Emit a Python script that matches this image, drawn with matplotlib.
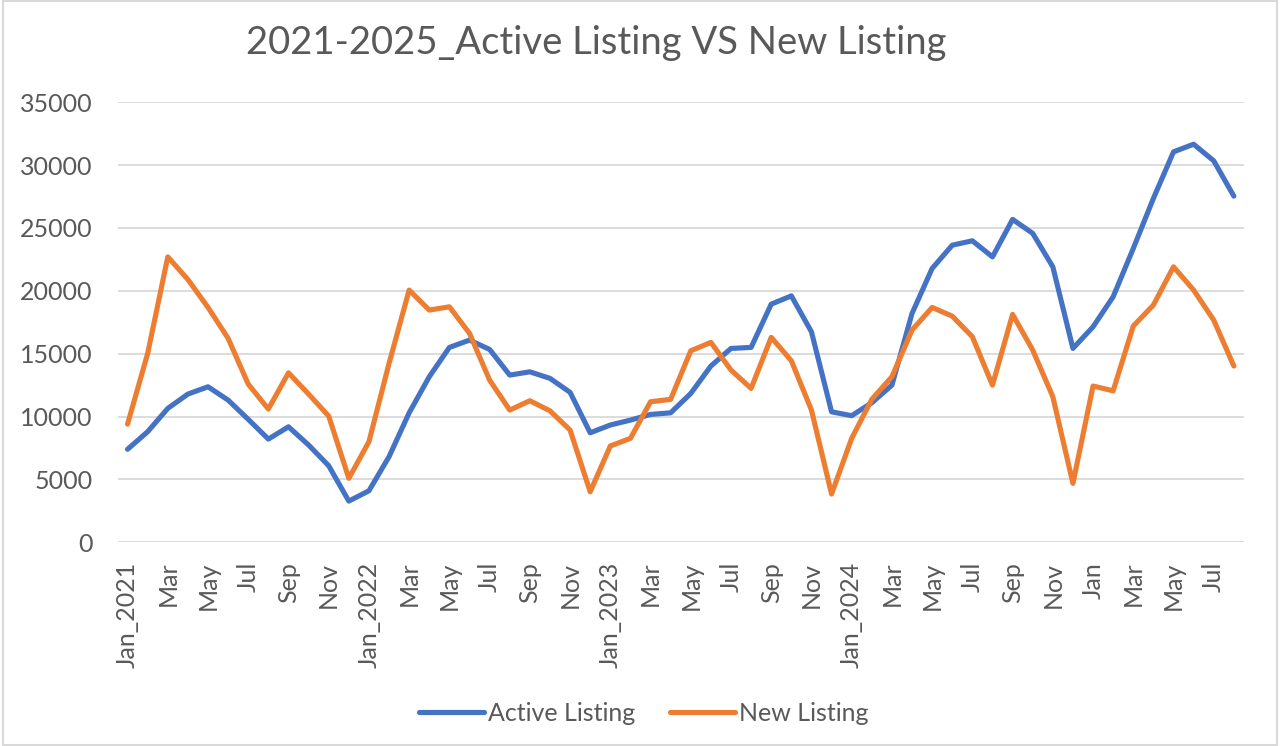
import matplotlib
matplotlib.use('Agg')
import matplotlib.pyplot as plt
from matplotlib.patches import Rectangle

# monthly values Jan 2021 .. Aug 2025
active_listing = [7400, 8800, 10650, 11790, 12370, 11310, 9780, 8210, 9190, 7740, 6090, 3280,
                  4100, 6810, 10300, 13170, 15500, 16080, 15340, 13300, 13560, 13040, 11930, 8710,
                  9330, 9720, 10170, 10300, 11840, 14020, 15420, 15500, 18940, 19600, 16740, 10380,
                  10070, 11100, 12500, 18200, 21780, 23630, 23980, 22700, 25680, 24570, 21910, 15420,
                  17140, 19530, 23370, 27350, 31050, 31660, 30340, 27530]
new_listing = [9400, 15020, 22700, 20900, 18680, 16220, 12580, 10600, 13480, 11790, 10040, 5090,
               8000, 14230, 20060, 18470, 18730, 16620, 12900, 10520, 11260, 10460, 8930, 4020,
               7660, 8270, 11180, 11370, 15230, 15900, 13700, 12240, 16300, 14440, 10520, 3840,
               8270, 11370, 13170, 16880, 18680, 17990, 16350, 12500, 18130, 15290, 11580, 4690,
               12430, 12050, 17200, 18870, 21910, 20060, 17670, 14020]
tick_labels = ['Jan_2021', 'Mar', 'May', 'Jul', 'Sep', 'Nov',
               'Jan_2022', 'Mar', 'May', 'Jul', 'Sep', 'Nov',
               'Jan_2023', 'Mar', 'May', 'Jul', 'Sep', 'Nov',
               'Jan_2024', 'Mar', 'May', 'Jul', 'Sep', 'Nov',
               'Jan', 'Mar', 'May', 'Jul']

plt.rcParams['font.family'] = ['Lato', 'DejaVu Sans']
text_col = '#595959'

fig = plt.figure(figsize=(12.8, 7.46), dpi=100)
ax = fig.add_axes([0.0918, 0.273, 0.880, 0.590])

x = list(range(len(active_listing)))
ax.plot(x, active_listing, color='#4472C4', lw=3.7, label='Active Listing', solid_capstyle='round')
ax.plot(x, new_listing, color='#ED7D31', lw=3.7, label='New Listing', solid_capstyle='round')

ax.set_xlim(-0.5, len(x) - 0.5)
ax.set_ylim(0, 35000)
ax.set_yticks(range(0, 35001, 5000))
ax.set_xticks(range(0, len(x), 2))
ax.set_xticklabels(tick_labels, rotation=90)
ax.tick_params(axis='both', length=0, labelsize=18, colors=text_col)
ax.tick_params(axis='y', pad=18)
ax.tick_params(axis='x', pad=14)
for sp in ax.spines.values():
    sp.set_visible(False)
ax.grid(axis='y', color='#d9d9d9', lw=1.3)
ax.set_axisbelow(True)

fig.text(0.466, 0.943, '2021-2025_Active Listing VS New Listing', ha='center', va='center',
         fontsize=27.5, color=text_col)

leg = fig.legend(loc='center', bbox_to_anchor=(0.503, 0.044), ncol=2, frameon=False,
                 fontsize=18, handlelength=2.6, handletextpad=0.15, columnspacing=1.4)
for t in leg.get_texts():
    t.set_color(text_col)

fig.patches.append(Rectangle((0.002, 0.002), 0.996, 0.996, transform=fig.transFigure,
                             fill=False, edgecolor='#d9d9d9', lw=1.5))

fig.savefig('out.png', dpi=100)
